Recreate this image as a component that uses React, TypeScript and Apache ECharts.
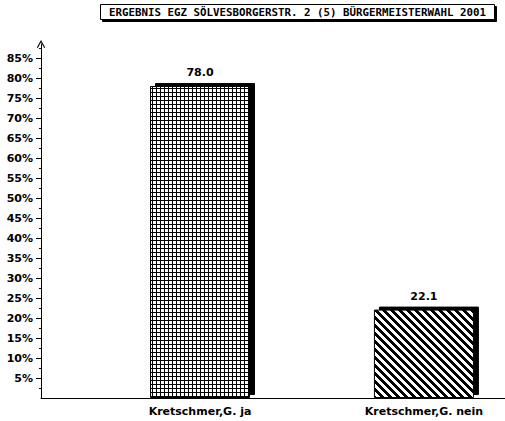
import React, { useEffect, useRef } from 'react';
import * as echarts from 'echarts';

const titleText = 'ERGEBNIS EGZ SÖLVESBORGERSTR. 2 (5) BÜRGERMEISTERWAHL 2001';
const categories = ['Kretschmer,G. ja', 'Kretschmer,G. nein'];
const values = [78.0, 22.1];
const majorTicks = [5, 10, 15, 20, 25, 30, 35, 40, 45, 50, 55, 60, 65, 70, 75, 80, 85];
const minorTicks = [2.5, 7.5, 12.5, 17.5, 22.5, 27.5, 32.5, 37.5, 42.5, 47.5, 52.5, 57.5, 62.5, 67.5, 72.5, 77.5, 82.5, 87.5];

// kleine Kachel fuer das Fuellmuster bauen
function makeTile(size: number, isBlack: (x: number, y: number) => boolean) {
  const c = document.createElement('canvas');
  c.width = size;
  c.height = size;
  const ctx = c.getContext('2d')!;
  const img = ctx.createImageData(size, size);
  for (let y = 0; y < size; y++) {
    for (let x = 0; x < size; x++) {
      const v = isBlack(x, y) ? 0 : 255;
      const i = (y * size + x) * 4;
      img.data[i] = v;
      img.data[i + 1] = v;
      img.data[i + 2] = v;
      img.data[i + 3] = 255;
    }
  }
  ctx.putImageData(img, 0, 0);
  return c;
}

const App: React.FC = () => {
  const chartRef = useRef<HTMLDivElement>(null);

  useEffect(() => {
    if (!chartRef.current) return;
    const chart = echarts.init(chartRef.current, undefined, { renderer: 'svg' });

    const gridTile = makeTile(4, (x, y) => x === 0 || y === 0);
    const stripeTile = makeTile(8, (x, y) => (((x - y) % 8) + 8) % 8 < 4);
    const patterns = [gridTile, stripeTile];

    const font = '"DejaVu Sans", sans-serif';
    const axisMin = -0.71;
    const axisMax = 1.362;

    const option = {
      animation: false,
      title: {
        text: titleText,
        left: 100,
        top: 4,
        padding: [3, 9, 2, 9],
        borderColor: '#000',
        borderWidth: 1,
        backgroundColor: '#fff',
        shadowColor: '#000',
        shadowOffsetX: 2,
        shadowOffsetY: 2,
        shadowBlur: 0,
        textStyle: {
          fontFamily: '"DejaVu Sans Mono", monospace',
          fontSize: 10.8,
          fontWeight: 'bold',
          color: '#000',
        },
      },
      grid: { left: 41, right: 0, top: 44, bottom: 23, containLabel: false },
      xAxis: {
        type: 'value',
        min: axisMin,
        max: axisMax,
        splitLine: { show: false },
        axisLine: { show: true, onZero: false, lineStyle: { color: '#000', width: 1 } },
        axisTick: { show: false },
        axisLabel: {
          customValues: [0, 1],
          formatter: (v: number) => categories[Math.round(v)] ?? '',
          margin: 8,
          color: '#000',
          fontFamily: font,
          fontSize: 11,
          fontWeight: 'bold',
        },
      },
      yAxis: [
        {
          type: 'value',
          min: 0,
          max: 88.5,
          position: 'left',
          splitLine: { show: false },
          axisLine: {
            show: true,
            onZero: false,
            lineStyle: { color: '#000', width: 1 },
            symbol: ['none', 'path://M0,9 L5,0 L10,9 L8.8,9.6 L5,2.6 L1.2,9.6 Z'],
            symbolSize: [11, 8],
            symbolOffset: [0, 0],
          },
          axisTick: { show: true, length: 5, lineStyle: { color: '#000' }, customValues: majorTicks },
          axisLabel: {
            customValues: majorTicks,
            formatter: (v: number) => v + '%',
            margin: 8,
            color: '#000',
            fontFamily: font,
            fontSize: 11,
            fontWeight: 'bold',
          },
        },
        {
          type: 'value',
          min: 0,
          max: 88.5,
          position: 'left',
          splitLine: { show: false },
          axisLine: { show: false, onZero: false },
          axisTick: { show: true, length: 2, lineStyle: { color: '#000' }, customValues: minorTicks },
          axisLabel: { show: false },
        },
      ],
      series: [
        {
          type: 'bar',
          barWidth: 100,
          data: values.map((v, i) => ({
            value: [i, v],
            itemStyle: {
              color: { image: patterns[i], repeat: 'repeat' },
            },
          })),
          itemStyle: {
            borderColor: '#000',
            borderWidth: 1,
            shadowColor: '#000',
            shadowOffsetX: 5,
            shadowOffsetY: -3,
            shadowBlur: 0,
          },
          label: {
            show: true,
            position: 'top',
            distance: 8,
            formatter: (p: any) => p.value[1].toFixed(1),
            color: '#000',
            fontFamily: font,
            fontSize: 11,
            fontWeight: 'bold',
          },
        },
      ],
    };

    chart.setOption(option);
    return () => {
      chart.dispose();
    };
  }, []);

  return (
    <div
      ref={chartRef}
      style={{ position: 'fixed', left: 0, top: 0, width: 505, height: 421, background: '#fff' }}
    />
  );
};

export default App;
